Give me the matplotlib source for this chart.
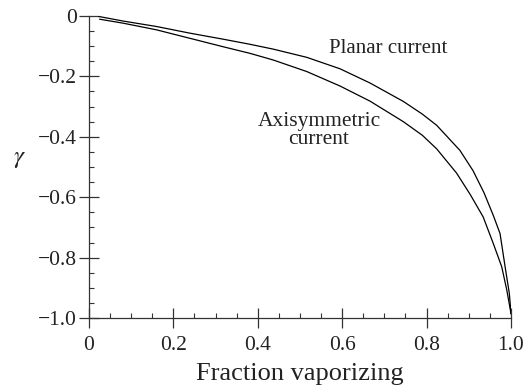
import matplotlib
matplotlib.use("Agg")
import matplotlib.pyplot as plt
from matplotlib.ticker import MultipleLocator, FixedFormatter, FixedLocator

plt.rcParams['font.family'] = ['Liberation Serif', 'DejaVu Serif']
plt.rcParams['mathtext.fontset'] = 'stix'

# Fraction vaporizing vs gamma for the two current geometries
planar_x = [0.024, 0.081, 0.160, 0.239, 0.318, 0.382, 0.437, 0.516, 0.595, 0.666,
            0.745, 0.790, 0.824, 0.879, 0.910, 0.936, 0.958, 0.974, 0.986, 0.996, 1.0]
planar_y = [-0.002, -0.017, -0.035, -0.057, -0.077, -0.094, -0.110, -0.137, -0.175, -0.222,
            -0.283, -0.325, -0.362, -0.445, -0.512, -0.585, -0.660, -0.720, -0.830, -0.918, -0.985]

axisym_x = [0.026, 0.081, 0.160, 0.239, 0.318, 0.382, 0.437, 0.516, 0.595, 0.666,
            0.745, 0.790, 0.824, 0.871, 0.903, 0.934, 0.958, 0.978, 0.990, 1.0]
axisym_y = [-0.011, -0.024, -0.046, -0.074, -0.102, -0.124, -0.146, -0.184, -0.232, -0.282,
            -0.350, -0.395, -0.440, -0.520, -0.590, -0.665, -0.753, -0.830, -0.907, -0.985]

x_ticks = [0, 0.2, 0.4, 0.6, 0.8, 1.0]
x_tick_labels = ['0', '0.2', '0.4', '0.6', '0.8', '1.0']
y_ticks = [0, -0.2, -0.4, -0.6, -0.8, -1.0]
y_tick_labels = ['0', '\u22120.2', '\u22120.4', '\u22120.6', '\u22120.8', '\u22121.0']

fig = plt.figure(figsize=(5.29, 3.88), dpi=100)
ax = fig.add_axes([0.168, 0.180, 0.798, 0.779])

ax.plot(planar_x, planar_y, color='black', lw=0.9)
ax.plot(axisym_x, axisym_y, color='black', lw=0.9)

ax.set_xlim(0, 1.0)
ax.set_ylim(-1.0, 0)

for side in ('top', 'right'):
    ax.spines[side].set_visible(False)
for side in ('left', 'bottom'):
    ax.spines[side].set_color('#333333')
    ax.spines[side].set_linewidth(0.9)

ax.xaxis.set_major_locator(FixedLocator(x_ticks))
ax.xaxis.set_major_formatter(FixedFormatter(x_tick_labels))
ax.yaxis.set_major_locator(FixedLocator(y_ticks))
ax.yaxis.set_major_formatter(FixedFormatter(y_tick_labels))
ax.xaxis.set_minor_locator(MultipleLocator(0.05))
ax.yaxis.set_minor_locator(MultipleLocator(0.05))

ax.tick_params(which='major', direction='inout', length=14, width=0.9,
               color='#333333', labelsize=15.5, labelcolor='#222222')
ax.tick_params(axis='x', which='major', pad=5.5)
ax.tick_params(axis='y', which='major', pad=1.5)
ax.tick_params(which='minor', direction='in', length=3.5, width=0.8, color='#333333')

ax.set_xlabel('Fraction vaporizing', fontsize=19, color='#222222', labelpad=6)
ax.set_ylabel(r'$\gamma$', fontsize=18, rotation=0, color='#222222')
ax.yaxis.set_label_coords(-0.165, 0.49)

ax.text(0.71, -0.109, 'Planar current', fontsize=15, ha='center', va='center', color='#222222')
ax.text(0.545, -0.38, 'Axisymmetric\ncurrent', fontsize=15.5, ha='center', va='center',
        color='#222222', linespacing=0.9)

fig.savefig('out.png', dpi=100)
